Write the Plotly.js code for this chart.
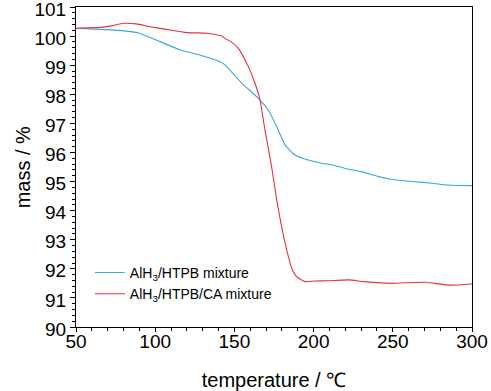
<!DOCTYPE html>
<html>
<head>
<meta charset="utf-8">
<script src="https://cdn.plot.ly/plotly-3.0.1.min.js"></script>
<style>html,body{margin:0;padding:0;background:#fff;}#chart{width:491px;height:391px;}</style>
</head>
<body>
<div id="chart"></div>
<script>
const tempHTPB = [50, 65, 82, 90, 103, 116, 128, 141, 144, 149, 154.6, 160, 165.1, 171.4, 176.7, 182, 188.3, 196.6, 205, 212, 220, 230, 241, 249, 262, 275, 285, 300];
const massHTPB = [100.27, 100.23, 100.17, 100.1, 99.81, 99.52, 99.35, 99.12, 99.01, 98.72, 98.38, 98.12, 97.86, 97.46, 96.89, 96.26, 95.91, 95.74, 95.63, 95.57, 95.45, 95.34, 95.17, 95.08, 95.0, 94.94, 94.88, 94.86];
const tempCA = [50, 65, 72, 80, 88, 97, 107, 120, 133, 142, 144.1, 148, 152.5, 158.8, 163, 166.2, 169.3, 173.5, 176.7, 179.8, 183, 186.2, 189.3, 194.6, 200.9, 209, 222, 232, 249, 270, 285, 300];
const massCA = [100.27, 100.3, 100.35, 100.44, 100.42, 100.32, 100.23, 100.12, 100.1, 100.0, 99.92, 99.8, 99.58, 98.95, 98.38, 97.8, 96.77, 95.51, 94.37, 93.45, 92.65, 92.02, 91.73, 91.56, 91.58, 91.59, 91.62, 91.56, 91.5, 91.54, 91.44, 91.48];
const seriesNames = ['AlH<sub>3</sub>/HTPB mixture', 'AlH<sub>3</sub>/HTPB/CA mixture'];
const xTitle = 'temperature / ℃';
const yTitle = 'mass / %';

const font = 'Arial, "Liberation Sans", sans-serif';
const traces = [
  {x: tempHTPB, y: massHTPB, name: seriesNames[0], mode: 'lines', line: {color: '#3aa6e6', width: 1.1, shape: 'spline', smoothing: 0.5}, legendgroup: 'a'},
  {x: tempCA, y: massCA, name: seriesNames[1], mode: 'lines', line: {color: '#e8313c', width: 1.1, shape: 'spline', smoothing: 0.5}, legendgroup: 'b'}
];
const axisCommon = {
  showgrid: false, zeroline: false, showline: true, linecolor: '#000', linewidth: 1, mirror: true,
  ticks: 'outside', tickcolor: '#000', tickwidth: 1, ticklabeloverflow: 'allow',
  tickfont: {family: font, size: 19, color: '#000'}
};
const layout = {
  width: 491, height: 391,
  margin: {l: 76, r: 19, t: 7, b: 64},
  paper_bgcolor: '#fff', plot_bgcolor: '#fff',
  showlegend: true,
  legend: {x: 0.035, y: 0.219, xanchor: 'left', yanchor: 'top', bgcolor: 'rgba(0,0,0,0)', font: {family: font, size: 14, color: '#000'}, tracegroupgap: 0},
  xaxis: Object.assign({}, axisCommon, {
    range: [50, 300], dtick: 50, tick0: 0, ticklen: 4, ticklabelstandoff: -7,
    minor: {dtick: 10, ticklen: 3, ticks: 'outside', tickcolor: '#000'},
    title: {text: xTitle, font: {family: font, size: 20, color: '#000'}, standoff: 22}
  }),
  yaxis: Object.assign({}, axisCommon, {
    range: [90, 101], dtick: 1, tick0: 0, ticklen: 5, ticklabelshift: 2,
    minor: {dtick: 0.2, ticklen: 3, ticks: 'outside', tickcolor: '#000'}
  }),
  annotations: [{
    text: yTitle, xref: 'paper', yref: 'paper', x: -0.133, y: 0.5, xanchor: 'center', yanchor: 'middle',
    textangle: -90, showarrow: false, font: {family: font, size: 20, color: '#000'}
  }]
};
Plotly.newPlot('chart', traces, layout, {displayModeBar: false, staticPlot: true});
</script>
</body>
</html>
